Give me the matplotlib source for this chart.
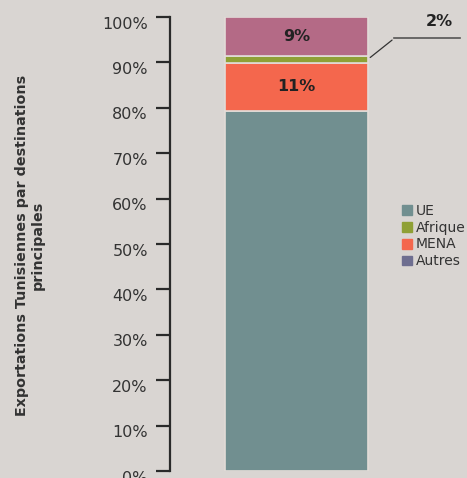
import matplotlib.pyplot as plt
import matplotlib.patches as mpatches
from matplotlib.transforms import ScaledTranslation

categories = ['UE', 'MENA', 'Afrique', 'Autres']
values = [79.3, 10.6, 1.6, 8.5]
labels = ['', '11%', '2%', '9%']
bar_colors = ['#718f90', '#f4674d', '#8fa035', '#b46a86']

legend_names = ['UE', 'Afrique', 'MENA', 'Autres']
legend_colors = ['#718f90', '#8fa035', '#f4674d', '#6e6e90']

bg = '#d9d5d2'
fig = plt.figure(figsize=(4.67, 4.78), dpi=100, facecolor=bg)
ax = fig.add_axes([170 / 467, 1 - 471 / 478, 230 / 467, 454 / 478])
ax.set_facecolor(bg)

bottom = 0
for cat, v, lab, c in zip(categories, values, labels, bar_colors):
    ax.bar(0.55, v, width=0.622, bottom=bottom, color=c, edgecolor='#e2dcd8', linewidth=1.2)
    if lab and cat != 'Afrique':
        ax.text(0.55, bottom + v / 2, lab, ha='center', va='center',
                fontsize=11.5, fontweight='bold', color='#222222')
    if cat == 'Afrique':
        y = bottom + v / 2
        ax.annotate('', xy=(0.55 + 0.311, y), xytext=(0.975, 95.3),
                    arrowprops=dict(arrowstyle='-', color='#333333', lw=0.9),
                    annotation_clip=False)
        ax.plot([0.975, 1.26], [95.3, 95.3], color='#555555', lw=1.2, clip_on=False)
        ax.text(1.17, 99, lab, ha='center', va='center', fontsize=11.5,
                fontweight='bold', color='#222222', clip_on=False)
    bottom += v

ax.set_xlim(0, 1)
ax.set_ylim(0, 100)
ax.set_yticks(range(0, 101, 10))
ax.set_yticklabels([f'{t}%' for t in range(0, 101, 10)], fontsize=11.5, color='#333333')
ax.set_xticks([])
for s in ['top', 'right', 'bottom']:
    ax.spines[s].set_visible(False)
ax.spines['left'].set_color('#2a2a2a')
ax.spines['left'].set_linewidth(1.6)
ax.tick_params(axis='y', length=10, width=1.6, color='#2a2a2a', pad=6)
shift = ScaledTranslation(0, -4 / 72, fig.dpi_scale_trans)
for lbl in ax.get_yticklabels():
    lbl.set_transform(lbl.get_transform() + shift)

fig.text(30 / 467, 1 - 245 / 478, 'Exportations Tunisiennes par destinations\nprincipales',
         rotation=90, ha='center', va='center', fontsize=10.3, fontweight='bold',
         color='#333333', linespacing=1.1)

handles = [mpatches.Patch(color=c, label=n) for n, c in zip(legend_names, legend_colors)]
fig.legend(handles=handles, loc='upper left', bbox_to_anchor=(395 / 467, 1 - 197 / 478),
           frameon=False, fontsize=10, handlelength=0.7, handleheight=0.7,
           handletextpad=0.3, labelspacing=0.2, borderpad=0, labelcolor='#333333')

fig.savefig('out.png', dpi=100, facecolor=bg)
